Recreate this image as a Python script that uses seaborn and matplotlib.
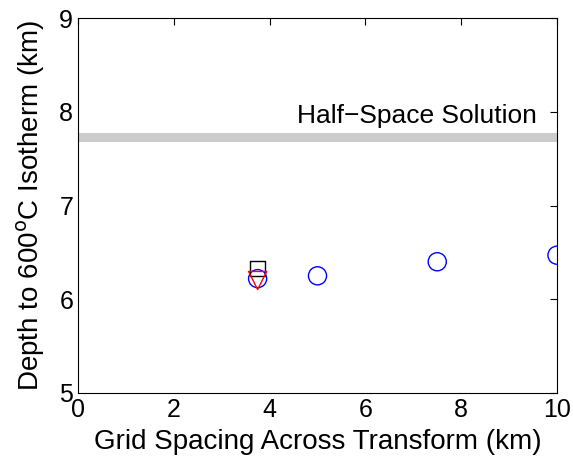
import matplotlib
matplotlib.use("Agg")
import matplotlib.pyplot as plt
import seaborn as sns
import pandas as pd

# grid spacing (km) vs depth to 600C isotherm (km)
circle_x = [3.75, 5.0, 7.5, 10.0]
circle_y = [6.22, 6.25, 6.40, 6.47]
square_x = [3.75]
square_y = [6.33]
tri_x = [3.75]
tri_y = [6.20]
half_space = 7.73

sns.set_style("white")
plt.rcParams['font.family'] = ['Liberation Sans', 'DejaVu Sans']
plt.rcParams['text.color'] = 'black'
plt.rcParams['axes.labelcolor'] = 'black'

fig = plt.figure(figsize=(5.73, 4.72), dpi=100)
ax = fig.add_axes([78/573, 1 - 393/472, (557-78)/573, (393-18)/472])

ax.axhline(half_space, color="#cccccc", lw=6.5, zorder=1)
ax.text(4.58, 7.95, "Half\u2212Space Solution", fontsize=19, va="center", ha="left")

df_c = pd.DataFrame({"x": circle_x, "y": circle_y})
sns.scatterplot(data=df_c, x="x", y="y", ax=ax, marker="o", s=170,
                facecolor="none", edgecolor="blue", linewidth=1.0, zorder=3)
ax.scatter(square_x, square_y, marker="s", s=110, facecolor="none",
           edgecolor="black", linewidth=1.0, zorder=3)
ax.scatter(tri_x, tri_y, marker="v", s=170, facecolor="none",
           edgecolor="red", linewidth=1.0, zorder=4)

ax.set_xlim(0, 10)
ax.set_ylim(5, 9)
ax.set_xticks(range(0, 11, 2))
ax.set_yticks(range(5, 10))
ax.tick_params(direction="in", top=True, right=True, labelsize=18, length=5,
               width=0.8, colors="black")
for s in ax.spines.values():
    s.set_color("black")
    s.set_linewidth(0.8)
ax.set_xlabel("Grid Spacing Across Transform (km)", fontsize=20, labelpad=5)
ax.set_ylabel("Depth to 600$^{\\mathrm{o}}$C Isotherm (km)", fontsize=20, labelpad=9)

fig.savefig("out.png", dpi=100)
